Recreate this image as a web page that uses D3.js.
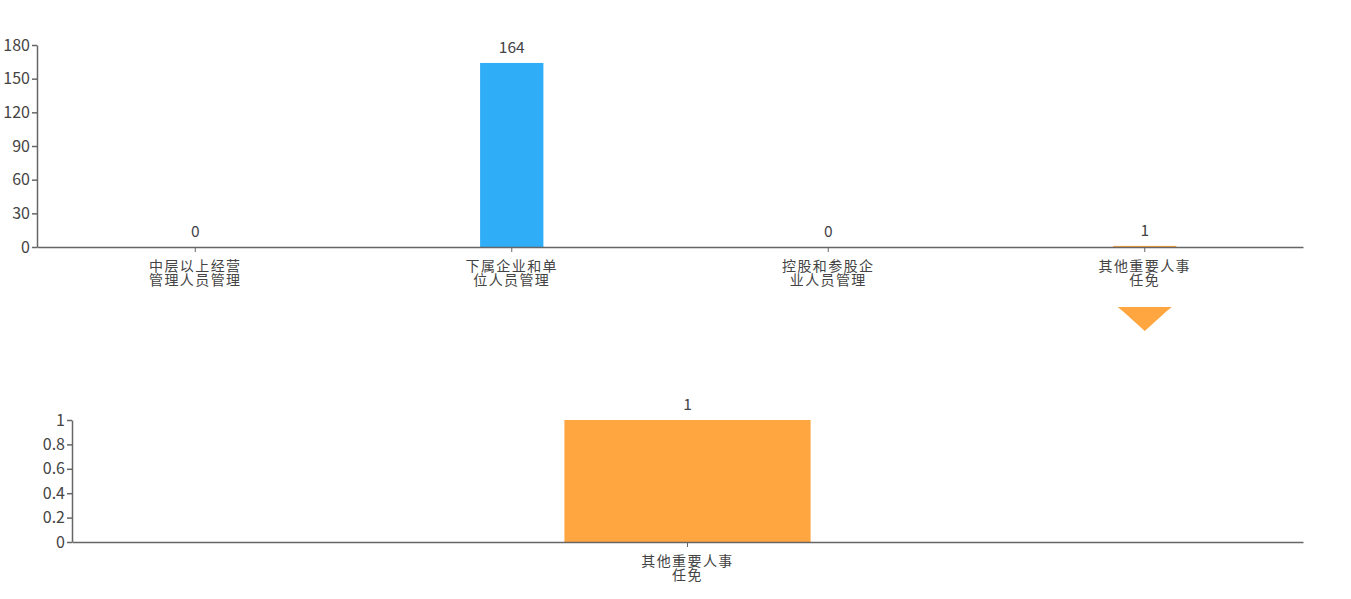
<!DOCTYPE html>
<html><head><meta charset="utf-8">
<script src="https://cdn.jsdelivr.net/npm/d3@7"></script>
<style>
body{margin:0;background:#fff;}
text{font-family:"Noto Sans CJK SC","Noto Sans",sans-serif;}
</style></head>
<body><svg id="c" width="1351" height="599"></svg>
<script>
const categories = ["中层以上经营\n管理人员管理","下属企业和单\n位人员管理","控股和参股企\n业人员管理","其他重要人事\n任免"];
const values = [0,164,0,1];
const barColors = ["#2fadf7","#2fadf7","#2fadf7","#ffa640"];
const yTicksTop = [0,30,60,90,120,150,180];
const detailCategories = ["其他重要人事\n任免"];
const detailValues = [1];
const yTicksBottom = [0,0.2,0.4,0.6,0.8,1];
const selectedIndex = 3;

const svg = d3.select("#c");
const axisColor = "#666";
const textColor = "#444";

function drawChart(cfg){
  const g = svg.append("g");
  const x = d3.scaleBand().domain(cfg.cats).range([cfg.left,cfg.right]).padding(0);
  const y = d3.scaleLinear().domain([0,cfg.max]).range([cfg.bottom,cfg.top]);
  const bw = x.bandwidth()*0.2;
  g.selectAll("rect.bar").data(cfg.vals).join("rect")
    .attr("x",(d,i)=>x(cfg.cats[i])+x.bandwidth()/2-bw/2)
    .attr("y",d=>y(d)).attr("width",bw).attr("height",d=>cfg.bottom-y(d))
    .attr("fill",(d,i)=>cfg.colors[i]);
  g.selectAll("text.val").data(cfg.vals).join("text")
    .attr("x",(d,i)=>x(cfg.cats[i])+x.bandwidth()/2)
    .attr("y",d=>y(d)-10).attr("text-anchor","middle")
    .attr("font-size",15.5).attr("font-family",'"Noto Sans",sans-serif')
    .attr("fill",textColor).text(d=>d);
  const ya = g.append("g").attr("transform",`translate(${cfg.left},0)`)
    .call(d3.axisLeft(y).tickValues(cfg.ticks).tickSize(5).tickSizeOuter(0).tickPadding(2).tickFormat(d3.format("")));
  ya.select(".domain").attr("stroke",axisColor).attr("stroke-width",1.5);
  ya.selectAll(".tick line").attr("stroke",axisColor).attr("stroke-width",1.5);
  ya.selectAll(".tick text").attr("font-size",16).attr("fill",textColor).attr("font-family",'"Noto Sans",sans-serif');
  const xa = g.append("g").attr("transform",`translate(0,${cfg.bottom})`)
    .call(d3.axisBottom(x).tickSize(5).tickSizeOuter(0).tickFormat(""));
  xa.select(".domain").attr("stroke",axisColor).attr("stroke-width",1.5);
  xa.selectAll(".tick line").attr("stroke",axisColor).attr("stroke-width",1);
  xa.selectAll(".tick").each(function(d){
    const lines = d.split("\n");
    const t = d3.select(this).append("text").attr("fill",textColor).attr("font-size",14)
      .attr("text-anchor","middle").attr("letter-spacing","1.4px");
    lines.forEach((l,i)=>t.append("tspan").attr("x",0).attr("y",24+i*14).text(l));
  });
  return x;
}

const xTop = drawChart({cats:categories,vals:values,colors:barColors,max:180,ticks:yTicksTop,left:37,right:1303,top:45,bottom:247});
drawChart({cats:detailCategories,vals:detailValues,colors:["#ffa640"],max:1,ticks:yTicksBottom,left:72,right:1303,top:420,bottom:542});

const cx = xTop(categories[selectedIndex]) + xTop.bandwidth()/2;
svg.append("path")
  .attr("d",`M${cx-27},307 L${cx+27},307 L${cx+21},312 L${cx},331 L${cx-21},312 Z`)
  .attr("fill","#ffa640");
</script></body></html>
